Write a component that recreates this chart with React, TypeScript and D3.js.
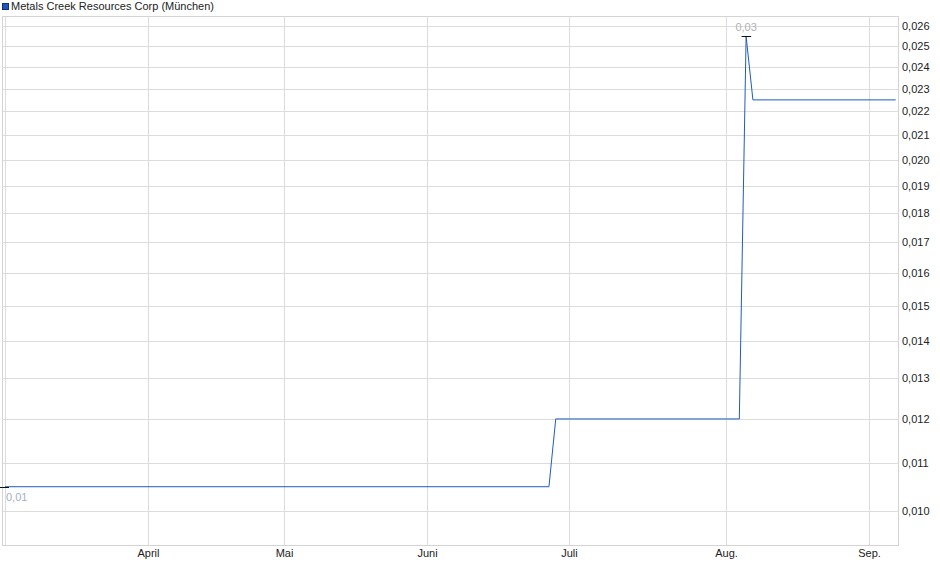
import * as d3 from 'd3';

// Trading-day index of every vertex in the price line (Mar 3 = 0)
const dayIndex = [0, 80, 81, 108, 109, 110, 131];
const prices = [0.0105, 0.0105, 0.012, 0.012, 0.0255, 0.0225, 0.0225];

// Month start positions on the trading-day axis
const monthIndex = [0, 21, 41, 62, 83, 106, 127];
const monthLabels = ['', 'April', 'Mai', 'Juni', 'Juli', 'Aug.', 'Sep.'];

const yTicks = [0.010, 0.011, 0.012, 0.013, 0.014, 0.015, 0.016, 0.017, 0.018,
  0.019, 0.020, 0.021, 0.022, 0.023, 0.024, 0.025, 0.026];

const title = 'Metals Creek Resources Corp (München)';
const highLabel = '0,03';
const lowLabel = '0,01';

const width = 940;
const height = 579;
const plot = { left: 2.5, right: 898.5, top: 16.5, bottom: 545.5 };

const App = () => {
  const x = d3.scaleLinear().domain([0, 131]).range([5, 895.7]);
  const y = d3.scaleLog().domain([0.009352, 0.026517]).range([plot.bottom, plot.top]);

  const points = dayIndex.map((d, i) => [d, prices[i]] as [number, number]);
  const line = d3.line<[number, number]>()
    .x(d => x(d[0]))
    .y(d => y(d[1]));

  const fmt = (v: number) => v.toFixed(3).replace('.', ',');

  const hiIdx = d3.maxIndex(prices);
  const loIdx = d3.minIndex(prices);
  const hx = x(dayIndex[hiIdx]);
  const hy = Math.round(y(prices[hiIdx])) + 0.5;
  const lx = x(dayIndex[loIdx]);
  const ly = Math.round(y(prices[loIdx])) + 0.5;

  return (
    <svg width={width} height={height} style={{ position: 'absolute', left: 0, top: 0, background: '#fff' }}
      fontFamily="'Liberation Sans', Arial, sans-serif" fontSize={11}>
      {/* legend */}
      <rect x={2.5} y={3.5} width={6} height={6} fill="#1c56c0" stroke="#15306a" strokeWidth={1} />
      <text x={11} y={10} fill="#222">{title}</text>

      {/* horizontal grid + y labels */}
      {yTicks.map(t => {
        const yy = Math.round(y(t)) + 0.5;
        return (
          <g key={t}>
            <line x1={plot.left} x2={plot.right} y1={yy} y2={yy} stroke="#dcdcdc" />
            <text x={902} y={yy} dy="0.35em" fill="#222">{fmt(t)}</text>
          </g>
        );
      })}

      {/* vertical grid + x labels */}
      {monthIndex.map((m, i) => {
        const xx = Math.round(x(m)) + 0.5;
        return (
          <g key={m}>
            <line x1={xx} x2={xx} y1={plot.top} y2={plot.bottom} stroke="#dcdcdc" />
            {monthLabels[i] && (
              <text x={xx} y={553} dy="0.35em" textAnchor="middle" fill="#222">{monthLabels[i]}</text>
            )}
          </g>
        );
      })}

      {/* frame */}
      <rect x={plot.left} y={plot.top} width={plot.right - plot.left} height={plot.bottom - plot.top}
        fill="none" stroke="#d4d4d4" />

      {/* price line */}
      <path d={line(points) || ''} fill="none" stroke="#1f5cc0" strokeWidth={1} />

      {/* high / low markers */}
      <line x1={hx - 4.5} x2={hx + 5} y1={hy} y2={hy} stroke="#111" />
      <text x={hx} y={27} dy="0.35em" textAnchor="middle" fill="#b0b0b0">{highLabel}</text>
      <line x1={0} x2={lx + 4} y1={ly} y2={ly} stroke="#111" />
      <text x={lx + 1} y={497} dy="0.35em" fill="#9fb0c8">{lowLabel}</text>
    </svg>
  );
};

export default App;
